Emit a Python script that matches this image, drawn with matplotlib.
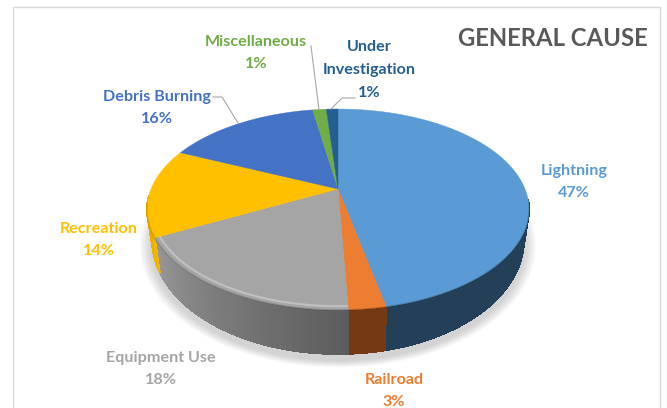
#!/usr/bin/env python3
"""General cause pie chart, drawn with a tilted 3D look"""

import numpy as np
import matplotlib
matplotlib.use("Agg")
import matplotlib.pyplot as plt

# Chart data, clockwise from 12 o'clock
categories = ["Lightning", "Railroad", "Equipment Use", "Recreation",
              "Debris Burning", "Miscellaneous", "Under\nInvestigation"]
shares = [46.7, 2.6, 18.1, 14.3, 15.7, 1.4, 1.2]
title = "GENERAL CAUSE"

top_colors = ["#5B9BD5", "#ED7D31", "#A5A5A5", "#FFC000", "#4472C4", "#70AD47", "#255E91"]
text_colors = ["#5B9BD5", "#ED7D31", "#A5A5A5", "#FFC000", "#4472C4", "#70AD47", "#255E91"]
side_left = ["#243F58", "#753A14", "#989898", "#E5A800", "#2F5597", "#507E32", "#1A4468"]
side_right = ["#243F58", "#753A14", "#5C5C5C", "#F2B800", "#2F5597", "#507E32", "#1A4468"]
rim_light = [0.0, 0.0, 0.3, 0.0, 0.0, 0.0, 0.0]

label_xy = [(574, 182), (394, 391), (161, 369), (99, 240), (157, 108), (256, 53), (369, 70)]
leaders = {
    "Debris Burning": ([213, 222, 238], [97, 97, 123]),
    "Miscellaneous": ([311, 319], [46, 110]),
    "Under\nInvestigation": ([355, 342, 331], [98, 98, 109]),
}


def project(theta, r=1.0, bottom=False):
    """Map a pie angle (degrees clockwise from top) to picture pixels"""
    t = np.radians(theta)
    u, v = r * np.sin(t), r * np.cos(t)
    w = 1 + 0.204 * v
    if bottom:
        return 338 + 182 * u / w, 216.7 - 109.3 * v / w
    return 338 + 187 * u / w, 189 - 96.3 * v / w


def rgb(c):
    return np.array(matplotlib.colors.to_rgb(c))


fig = plt.figure(figsize=(6.67, 4.08), dpi=100)
ax = fig.add_axes([0, 0, 1, 1])
ax.set_xlim(0, 667)
ax.set_ylim(408, 0)
ax.axis("off")

# chart frame, runs off the bottom of the picture
ax.plot([13, 13, 660, 660], [420, 6.5, 6.5, 420], color="#D9D9D9", lw=1.0)

# soft shadow under the pie
full = np.linspace(0, 360, 361)
for i in range(12):
    sx, sy = project(full, bottom=True)
    grow = 1 + (12 - i) * 0.0055
    ax.fill(338 + (sx - 338) * grow, 246 + (sy - 240) * grow,
            color="#808080", alpha=0.03, lw=0, zorder=1)

# cumulative angles for the slices
edges = np.concatenate([[0], np.cumsum(shares)]) / sum(shares) * 360

# side wall, thin strips so the shading can run along it
for i in range(len(shares)):
    start = max(edges[i], 96)
    stop = min(edges[i + 1], 266)
    if start >= stop:
        continue
    steps = np.arange(start, stop, 1.0).tolist() + [stop]
    for a, b in zip(steps[:-1], steps[1:]):
        f = (a - start) / max(stop - start, 1e-6)
        col = rgb(side_right[i]) * (1 - f) + rgb(side_left[i]) * f
        arc = np.array([a, b])
        tx, ty = project(arc)
        bx, by = project(arc, bottom=True)
        # no antialiasing here, it leaves pale seams between the strips
        ax.fill(np.r_[tx, bx[::-1]], np.r_[ty, by[::-1]], color=col, lw=0.6,
                antialiased=False, zorder=2)
        # smooth lower rim on top of the strips
        ax.plot(bx, by, color=col, lw=0.9, zorder=2, solid_capstyle="round")

# top face of each slice
for i in range(len(shares)):
    arc = np.linspace(edges[i], edges[i + 1], 80)
    x, y = project(arc)
    ax.fill(np.r_[338, x], np.r_[189, y], color=top_colors[i], lw=0.3, zorder=3)

# bevel along the front rim
for i in range(len(shares)):
    start = max(edges[i], 100)
    stop = min(edges[i + 1], 262)
    if start >= stop:
        continue
    arc = np.linspace(start, stop, 60)
    if rim_light[i] > 0:
        x, y = project(arc, r=0.975)
        ax.plot(x, y, color="white", alpha=rim_light[i], lw=1.5, zorder=4, solid_capstyle="butt")
    x, y = project(arc, r=1.0)
    ax.plot(x, y, color="black", alpha=0.12, lw=1.2, zorder=4, solid_capstyle="butt")

# leader lines
for name, (lx, ly) in leaders.items():
    ax.plot(lx, ly, color="#A6A6A6", lw=0.8, zorder=5)

# data labels
for name, val, (tx, ty), col in zip(categories, shares, label_xy, text_colors):
    ax.text(tx, ty, f"{name}\n{val:.0f}%", color=col, ha="center", va="center",
            family="Lato", fontweight="bold", fontsize=11.6, linespacing=1.8, zorder=6)

ax.text(552.5, 39, title, color="#595959", ha="center", va="center",
        family="Lato", fontweight="bold", fontsize=17.2, zorder=6)

plt.savefig("out.png", dpi=100)
